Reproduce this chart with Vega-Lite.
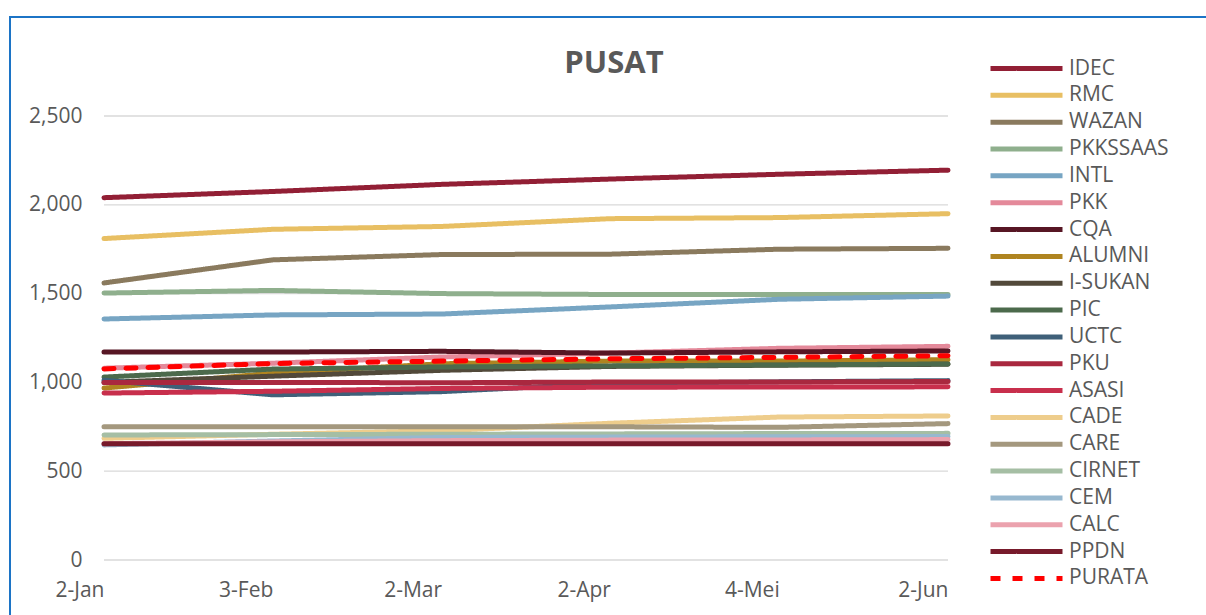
{
  "$schema": "https://vega.github.io/schema/vega-lite/v6.json",
  "width": 1200,
  "height": 600,
  "autosize": {"type": "none"},
  "padding": {"left": 10, "top": 17, "right": 0, "bottom": 0},
  "background": "white",
  "config": {
    "font": "Open Sans",
    "view": {"stroke": "#1C74C6", "strokeWidth": 2}
  },
  "title": {
    "text": "PUSAT",
    "fontSize": 31,
    "fontWeight": "bold",
    "color": "#595959",
    "anchor": "middle",
    "frame": "group",
    "offset": -63,
    "dx": 4
  },
  "data": {
    "values": [
      {"s": "IDEC", "d": "2-Jan", "v": 2040}, {"s": "IDEC", "d": "3-Feb", "v": 2075}, {"s": "IDEC", "d": "2-Mar", "v": 2115}, {"s": "IDEC", "d": "2-Apr", "v": 2145}, {"s": "IDEC", "d": "4-Mei", "v": 2172}, {"s": "IDEC", "d": "2-Jun", "v": 2195},
      {"s": "RMC", "d": "2-Jan", "v": 1810}, {"s": "RMC", "d": "3-Feb", "v": 1862}, {"s": "RMC", "d": "2-Mar", "v": 1878}, {"s": "RMC", "d": "2-Apr", "v": 1922}, {"s": "RMC", "d": "4-Mei", "v": 1928}, {"s": "RMC", "d": "2-Jun", "v": 1950},
      {"s": "WAZAN", "d": "2-Jan", "v": 1560}, {"s": "WAZAN", "d": "3-Feb", "v": 1690}, {"s": "WAZAN", "d": "2-Mar", "v": 1720}, {"s": "WAZAN", "d": "2-Apr", "v": 1722}, {"s": "WAZAN", "d": "4-Mei", "v": 1750}, {"s": "WAZAN", "d": "2-Jun", "v": 1755},
      {"s": "PKKSSAAS", "d": "2-Jan", "v": 1503}, {"s": "PKKSSAAS", "d": "3-Feb", "v": 1518}, {"s": "PKKSSAAS", "d": "2-Mar", "v": 1500}, {"s": "PKKSSAAS", "d": "2-Apr", "v": 1495}, {"s": "PKKSSAAS", "d": "4-Mei", "v": 1495}, {"s": "PKKSSAAS", "d": "2-Jun", "v": 1495},
      {"s": "INTL", "d": "2-Jan", "v": 1357}, {"s": "INTL", "d": "3-Feb", "v": 1380}, {"s": "INTL", "d": "2-Mar", "v": 1385}, {"s": "INTL", "d": "2-Apr", "v": 1425}, {"s": "INTL", "d": "4-Mei", "v": 1468}, {"s": "INTL", "d": "2-Jun", "v": 1486},
      {"s": "PKK", "d": "2-Jan", "v": 1080}, {"s": "PKK", "d": "3-Feb", "v": 1108}, {"s": "PKK", "d": "2-Mar", "v": 1143}, {"s": "PKK", "d": "2-Apr", "v": 1165}, {"s": "PKK", "d": "4-Mei", "v": 1192}, {"s": "PKK", "d": "2-Jun", "v": 1203},
      {"s": "CQA", "d": "2-Jan", "v": 1171}, {"s": "CQA", "d": "3-Feb", "v": 1171}, {"s": "CQA", "d": "2-Mar", "v": 1175}, {"s": "CQA", "d": "2-Apr", "v": 1165}, {"s": "CQA", "d": "4-Mei", "v": 1172}, {"s": "CQA", "d": "2-Jun", "v": 1177},
      {"s": "ALUMNI", "d": "2-Jan", "v": 968}, {"s": "ALUMNI", "d": "3-Feb", "v": 1052}, {"s": "ALUMNI", "d": "2-Mar", "v": 1105}, {"s": "ALUMNI", "d": "2-Apr", "v": 1120}, {"s": "ALUMNI", "d": "4-Mei", "v": 1120}, {"s": "ALUMNI", "d": "2-Jun", "v": 1128},
      {"s": "I-SUKAN", "d": "2-Jan", "v": 1000}, {"s": "I-SUKAN", "d": "3-Feb", "v": 1035}, {"s": "I-SUKAN", "d": "2-Mar", "v": 1068}, {"s": "I-SUKAN", "d": "2-Apr", "v": 1090}, {"s": "I-SUKAN", "d": "4-Mei", "v": 1097}, {"s": "I-SUKAN", "d": "2-Jun", "v": 1102},
      {"s": "PIC", "d": "2-Jan", "v": 1030}, {"s": "PIC", "d": "3-Feb", "v": 1075}, {"s": "PIC", "d": "2-Mar", "v": 1087}, {"s": "PIC", "d": "2-Apr", "v": 1093}, {"s": "PIC", "d": "4-Mei", "v": 1098}, {"s": "PIC", "d": "2-Jun", "v": 1104},
      {"s": "UCTC", "d": "2-Jan", "v": 1012}, {"s": "UCTC", "d": "3-Feb", "v": 930}, {"s": "UCTC", "d": "2-Mar", "v": 948}, {"s": "UCTC", "d": "2-Apr", "v": 995}, {"s": "UCTC", "d": "4-Mei", "v": 1003}, {"s": "UCTC", "d": "2-Jun", "v": 1010},
      {"s": "PKU", "d": "2-Jan", "v": 1000}, {"s": "PKU", "d": "3-Feb", "v": 1000}, {"s": "PKU", "d": "2-Mar", "v": 998}, {"s": "PKU", "d": "2-Apr", "v": 1002}, {"s": "PKU", "d": "4-Mei", "v": 1002}, {"s": "PKU", "d": "2-Jun", "v": 1005},
      {"s": "ASASI", "d": "2-Jan", "v": 940}, {"s": "ASASI", "d": "3-Feb", "v": 950}, {"s": "ASASI", "d": "2-Mar", "v": 966}, {"s": "ASASI", "d": "2-Apr", "v": 973}, {"s": "ASASI", "d": "4-Mei", "v": 974}, {"s": "ASASI", "d": "2-Jun", "v": 975},
      {"s": "CADE", "d": "2-Jan", "v": 685}, {"s": "CADE", "d": "3-Feb", "v": 708}, {"s": "CADE", "d": "2-Mar", "v": 728}, {"s": "CADE", "d": "2-Apr", "v": 770}, {"s": "CADE", "d": "4-Mei", "v": 805}, {"s": "CADE", "d": "2-Jun", "v": 811},
      {"s": "CARE", "d": "2-Jan", "v": 750}, {"s": "CARE", "d": "3-Feb", "v": 750}, {"s": "CARE", "d": "2-Mar", "v": 750}, {"s": "CARE", "d": "2-Apr", "v": 750}, {"s": "CARE", "d": "4-Mei", "v": 747}, {"s": "CARE", "d": "2-Jun", "v": 768},
      {"s": "CIRNET", "d": "2-Jan", "v": 704}, {"s": "CIRNET", "d": "3-Feb", "v": 706}, {"s": "CIRNET", "d": "2-Mar", "v": 708}, {"s": "CIRNET", "d": "2-Apr", "v": 710}, {"s": "CIRNET", "d": "4-Mei", "v": 712}, {"s": "CIRNET", "d": "2-Jun", "v": 713},
      {"s": "CEM", "d": "2-Jan", "v": 648}, {"s": "CEM", "d": "3-Feb", "v": 670}, {"s": "CEM", "d": "2-Mar", "v": 690}, {"s": "CEM", "d": "2-Apr", "v": 692}, {"s": "CEM", "d": "4-Mei", "v": 694}, {"s": "CEM", "d": "2-Jun", "v": 695},
      {"s": "CALC", "d": "2-Jan", "v": 655}, {"s": "CALC", "d": "3-Feb", "v": 665}, {"s": "CALC", "d": "2-Mar", "v": 672}, {"s": "CALC", "d": "2-Apr", "v": 675}, {"s": "CALC", "d": "4-Mei", "v": 676}, {"s": "CALC", "d": "2-Jun", "v": 678},
      {"s": "PPDN", "d": "2-Jan", "v": 655}, {"s": "PPDN", "d": "3-Feb", "v": 655}, {"s": "PPDN", "d": "2-Mar", "v": 655}, {"s": "PPDN", "d": "2-Apr", "v": 655}, {"s": "PPDN", "d": "4-Mei", "v": 655}, {"s": "PPDN", "d": "2-Jun", "v": 655},
      {"s": "PURATA", "d": "2-Jan", "v": 1076}, {"s": "PURATA", "d": "3-Feb", "v": 1106}, {"s": "PURATA", "d": "2-Mar", "v": 1120}, {"s": "PURATA", "d": "2-Apr", "v": 1133}, {"s": "PURATA", "d": "4-Mei", "v": 1141}, {"s": "PURATA", "d": "2-Jun", "v": 1150}
    ]
  },
  "layer": [
    {
      "data": {"values": [{"g": 0}, {"g": 500}, {"g": 1000}, {"g": 1500}, {"g": 2000}, {"g": 2500}]},
      "mark": {"type": "rule", "color": "#D9D9D9", "strokeWidth": 1.3},
      "encoding": {
        "y": {"field": "g", "type": "quantitative"},
        "x": {"datum": "2-Jan", "type": "nominal"},
        "x2": {"datum": "2-Jun"}
      }
    },
    {
      "mark": {"type": "line", "strokeWidth": 5, "strokeCap": "round", "strokeJoin": "round"},
      "encoding": {
        "x": {
          "field": "d",
          "type": "nominal",
          "sort": null,
          "scale": {"type": "point", "domain": ["2-Jan", "3-Feb", "2-Mar", "2-Apr", "4-Mei", "2-Jun"], "range": [94, 938], "padding": 0},
          "axis": {"title": null, "domain": false, "ticks": false, "grid": false, "labelAngle": 0, "labelFontSize": 21, "labelColor": "#595959", "labelPadding": 30, "offset": -57}
        },
        "y": {
          "field": "v",
          "type": "quantitative",
          "scale": {"domain": [0, 2500], "range": [543, 99], "nice": false, "zero": true},
          "axis": {"title": null, "values": [0, 500, 1000, 1500, 2000, 2500], "format": ",d", "domain": false, "ticks": false, "grid": false, "labelFontSize": 21, "labelColor": "#595959", "labelPadding": 0, "offset": -72}
        },
        "color": {
          "field": "s",
          "type": "nominal",
          "scale": {
            "domain": ["IDEC", "RMC", "WAZAN", "PKKSSAAS", "INTL", "PKK", "CQA", "ALUMNI", "I-SUKAN", "PIC", "UCTC", "PKU", "ASASI", "CADE", "CARE", "CIRNET", "CEM", "CALC", "PPDN", "PURATA"],
            "range": ["#921F35", "#E8BF63", "#8A7A5E", "#8FAF8D", "#77A5C3", "#E4899A", "#571624", "#AF8420", "#52493A", "#4C6A4C", "#3F6079", "#A9283F", "#C82F4C", "#EECD8C", "#A4987E", "#A5BEA4", "#97B8CF", "#EBA2AE", "#771A2B", "#FF0000"]
          },
          "legend": {"title": null, "orient": "none", "legendX": 1006, "legendY": 41, "symbolType": "M-7.2,0H7.2", "symbolSize": 100, "symbolStrokeWidth": 5, "labelFontSize": 21, "labelColor": "#595959", "labelOffset": 32, "rowPadding": 4.84, "padding": 0}
        },
        "strokeDash": {
          "field": "s",
          "type": "nominal",
          "scale": {
            "domain": ["IDEC", "RMC", "WAZAN", "PKKSSAAS", "INTL", "PKK", "CQA", "ALUMNI", "I-SUKAN", "PIC", "UCTC", "PKU", "ASASI", "CADE", "CARE", "CIRNET", "CEM", "CALC", "PPDN", "PURATA"],
            "range": [[1, 0], [1, 0], [1, 0], [1, 0], [1, 0], [1, 0], [1, 0], [1, 0], [1, 0], [1, 0], [1, 0], [1, 0], [1, 0], [1, 0], [1, 0], [1, 0], [1, 0], [1, 0], [1, 0], [10, 12]]
          },
          "legend": {"title": null, "orient": "none", "legendX": 1006, "legendY": 41, "symbolType": "M-7.2,0H7.2", "symbolSize": 100, "symbolStrokeWidth": 5, "labelFontSize": 21, "labelColor": "#595959", "labelOffset": 32, "rowPadding": 4.84, "padding": 0}
        }
      }
    }
  ]
}
